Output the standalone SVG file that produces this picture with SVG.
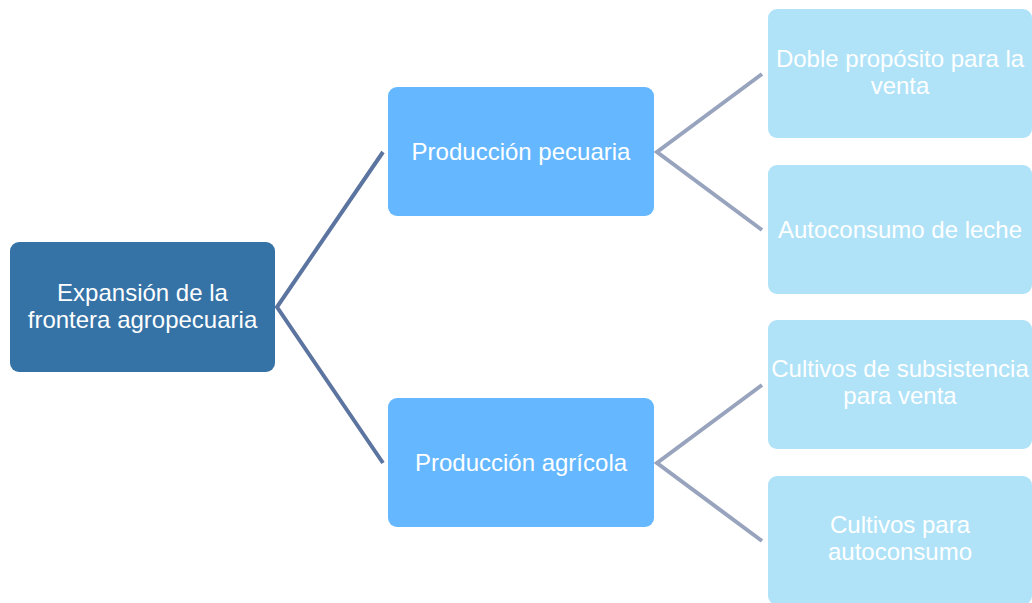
<svg xmlns="http://www.w3.org/2000/svg" width="1032" height="603" viewBox="0 0 1032 603">
<style>
text{font-family:"Liberation Sans",Arial,sans-serif;font-size:24px;fill:#ffffff;text-anchor:middle}
.l1{fill:#3572A6}
.l2{fill:#65B8FF}
.l3{fill:#B0E3F8}
.c1{stroke:#5B74A0;stroke-width:4;fill:none}
.c2{stroke:#98A3BD;stroke-width:4;fill:none}
</style>
<rect width="1032" height="603" fill="#ffffff"/>
<g id="connectors">
<polyline class="c1" points="383,152 277,307 383,463"/>
<polyline class="c2" points="762,74 657,152 762,230"/>
<polyline class="c2" points="762,385 657,463 762,541"/>
</g>
<g id="root">
<rect class="l1" x="10" y="242" width="265" height="130" rx="9"/>
<text x="142.5" y="301">Expansión de la</text>
<text x="142.5" y="328">frontera agropecuaria</text>
</g>
<g id="pecuaria">
<rect class="l2" x="388" y="87" width="266" height="129" rx="9"/>
<text x="521" y="160">Producción pecuaria</text>
</g>
<g id="agricola">
<rect class="l2" x="388" y="398" width="266" height="129" rx="9"/>
<text x="521" y="471">Producción agrícola</text>
</g>
<g id="doble">
<rect class="l3" x="768" y="9" width="264" height="129" rx="9"/>
<text x="900" y="67">Doble propósito para la</text>
<text x="900" y="94">venta</text>
</g>
<g id="autoconsumo-leche">
<rect class="l3" x="768" y="165" width="264" height="129" rx="9"/>
<text x="900" y="238">Autoconsumo de leche</text>
</g>
<g id="subsistencia">
<rect class="l3" x="768" y="320" width="264" height="129" rx="9"/>
<text x="900" y="377">Cultivos de subsistencia</text>
<text x="900" y="404">para venta</text>
</g>
<g id="cultivos-autoconsumo">
<rect class="l3" x="768" y="476" width="264" height="129" rx="9"/>
<text x="900" y="533">Cultivos para</text>
<text x="900" y="560">autoconsumo</text>
</g>
</svg>
